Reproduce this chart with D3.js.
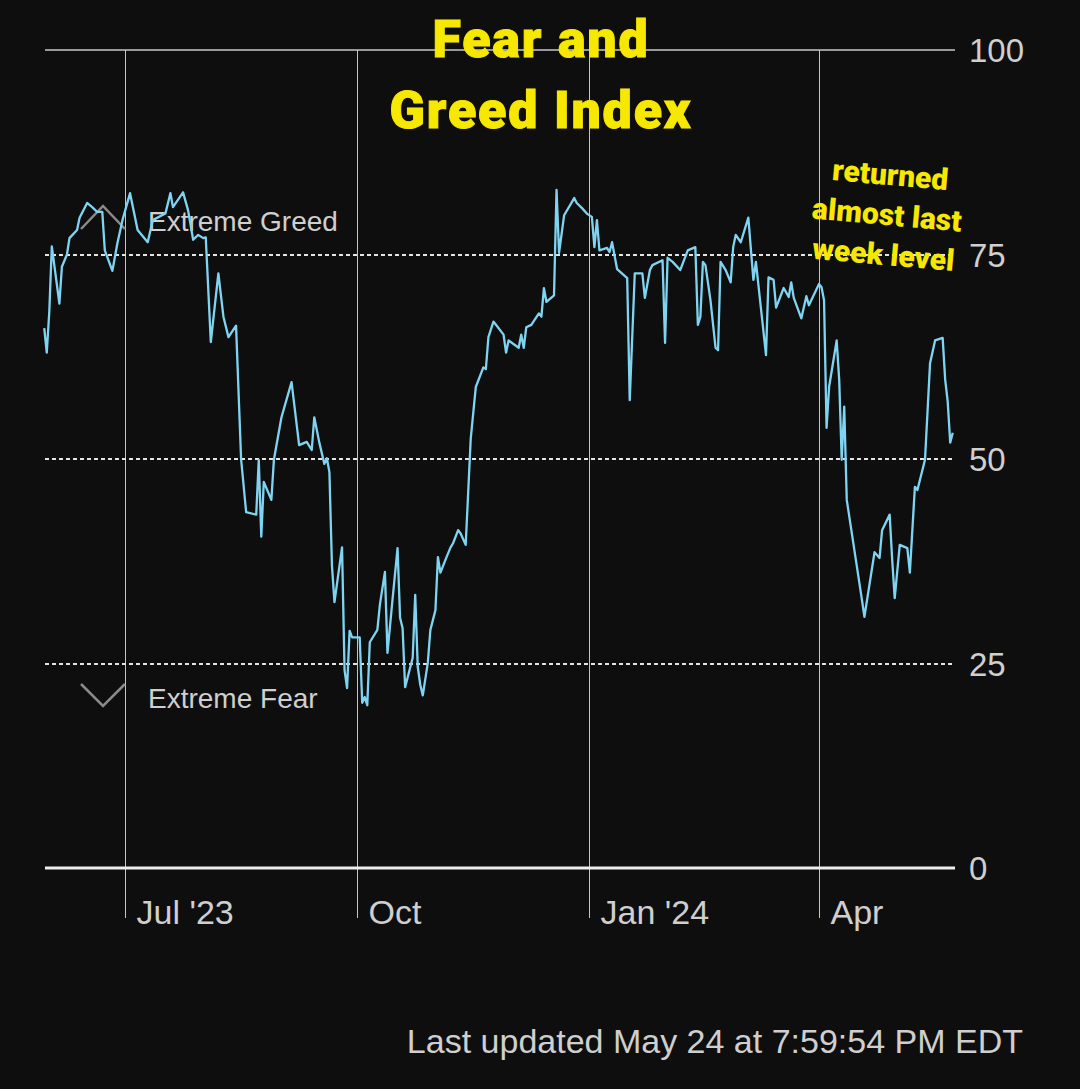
<!DOCTYPE html>
<html>
<head>
<meta charset="utf-8">
<script src="https://cdn.jsdelivr.net/npm/d3@7"></script>
<style>
  html, body { margin: 0; padding: 0; background: #0e0e0e; }
  svg { display: block; }
</style>
</head>
<body>
<svg></svg>
<script>
// daily index readings (date, value)
var dates = [
  "2023-05-30","2023-05-31","2023-06-01","2023-06-02","2023-06-05","2023-06-06","2023-06-08","2023-06-09",
  "2023-06-12","2023-06-13","2023-06-16","2023-06-18","2023-06-20","2023-06-22","2023-06-23","2023-06-26",
  "2023-06-28","2023-06-30","2023-07-03","2023-07-06","2023-07-10","2023-07-12","2023-07-17","2023-07-19",
  "2023-07-20","2023-07-24","2023-07-26","2023-07-28","2023-07-30","2023-08-01","2023-08-02","2023-08-04",
  "2023-08-07","2023-08-09","2023-08-11","2023-08-14","2023-08-16","2023-08-18","2023-08-22","2023-08-23",
  "2023-08-24","2023-08-25","2023-08-28","2023-08-29","2023-09-01","2023-09-05","2023-09-08","2023-09-11",
  "2023-09-13","2023-09-14","2023-09-16","2023-09-18","2023-09-19","2023-09-20","2023-09-21","2023-09-22",
  "2023-09-25","2023-09-26","2023-09-27","2023-09-28","2023-09-29","2023-10-02","2023-10-03","2023-10-04",
  "2023-10-05","2023-10-06","2023-10-09","2023-10-10","2023-10-12","2023-10-13","2023-10-15","2023-10-17",
  "2023-10-18","2023-10-19","2023-10-20","2023-10-23","2023-10-24","2023-10-25","2023-10-26","2023-10-27",
  "2023-10-29","2023-10-30","2023-10-31","2023-11-01","2023-11-02","2023-11-03","2023-11-05","2023-11-07",
  "2023-11-08","2023-11-10","2023-11-11","2023-11-13","2023-11-15","2023-11-17","2023-11-20","2023-11-21",
  "2023-11-22","2023-11-24","2023-11-28","2023-11-29","2023-11-30","2023-12-04","2023-12-05","2023-12-06",
  "2023-12-07","2023-12-09","2023-12-12","2023-12-13","2023-12-14","2023-12-15","2023-12-18","2023-12-19",
  "2023-12-20","2023-12-22","2023-12-26","2023-12-27","2023-12-29","2023-12-31","2024-01-02","2024-01-03",
  "2024-01-04","2024-01-05","2024-01-08","2024-01-09","2024-01-10","2024-01-12","2024-01-16","2024-01-17",
  "2024-01-19","2024-01-22","2024-01-23","2024-01-25","2024-01-26","2024-01-30","2024-01-31","2024-02-01",
  "2024-02-03","2024-02-06","2024-02-09","2024-02-12","2024-02-13","2024-02-14","2024-02-15","2024-02-16",
  "2024-02-18","2024-02-20","2024-02-21","2024-02-22","2024-02-24","2024-02-26","2024-02-27","2024-02-28",
  "2024-03-01","2024-03-04","2024-03-06","2024-03-07","2024-03-11","2024-03-12","2024-03-14","2024-03-15",
  "2024-03-18","2024-03-20","2024-03-21","2024-03-22","2024-03-25","2024-03-27","2024-03-28","2024-04-01",
  "2024-04-02","2024-04-03","2024-04-04","2024-04-05","2024-04-08","2024-04-09","2024-04-10","2024-04-11",
  "2024-04-12","2024-04-18","2024-04-19","2024-04-23","2024-04-25","2024-04-26","2024-04-29","2024-04-30",
  "2024-05-01","2024-05-03","2024-05-06","2024-05-07","2024-05-09","2024-05-10","2024-05-13","2024-05-15",
  "2024-05-17","2024-05-20","2024-05-21","2024-05-22","2024-05-23","2024-05-24"
]
var values = [
  66, 63, 68, 76, 69, 73.5, 75, 77,
  78, 79.5, 81.3, 80.8, 80.2, 80.2, 75.5, 73,
  76.4, 79.2, 82.5, 78, 76.5, 79.2, 80, 82.5,
  80.8, 82.6, 80.4, 76.8, 77.4, 77, 77.1, 64.3,
  72.7, 67.4, 64.9, 66.3, 50, 43.5, 43.2, 49.9,
  40.5, 47.2, 45, 49.9, 55.1, 59.4, 51.7, 52.1,
  51.1, 55.1, 52, 49.4, 50.1, 48.4, 37, 32.5,
  39.2, 24.2, 22, 29, 28.2, 28.2, 20.2, 20.9,
  19.9, 27.6, 29.1, 32.2, 36.2, 26.3, 32.8, 39.1,
  30.6, 29.3, 22.1, 25.7, 33.4, 24.6, 22.4, 21.1,
  25.1, 29.1, 30.3, 31.5, 38, 36.1, 37.7, 39.2,
  39.7, 41.3, 40.9, 39.5, 52.5, 58.8, 61.2, 61,
  64.9, 66.8, 65.2, 63, 64.5, 63.6, 65.2, 63.6,
  66.1, 66.4, 67.8, 67.4, 70.9, 69.2, 70, 82.9,
  75.2, 79.8, 81.9, 81.3, 80.7, 80, 79.6, 75.9,
  79.2, 75.5, 75.8, 75.3, 76.5, 73.2, 72.1, 57.2,
  72.7, 72.7, 69.7, 73.1, 73.7, 74.3, 64.2, 74.6,
  74.1, 73.1, 75.5, 75.9, 66.4, 67.4, 74.1, 73.7,
  69.4, 63.6, 63.3, 74.1, 73.1, 71.6, 75.9, 77.4,
  76.5, 79.5, 71.9, 74.1, 62.7, 72.2, 71.9, 68.5,
  70.9, 69.8, 71.6, 69.7, 67.2, 69.9, 68.8, 71.4,
  71, 69.4, 53.8, 58.8, 64.5, 59.7, 49.9, 56.4,
  45, 32.8, 30.7, 38.6, 37.9, 41.3, 43.2, 37.7,
  33, 39.5, 39.1, 36.1, 46.6, 46.2, 49.9, 61.7,
  64.5, 64.8, 59.7, 57, 52, 53.2
]
var yTicks = [0, 25, 50, 75, 100]
var tickDates = ["2023-07-01", "2023-10-01", "2024-01-01", "2024-04-01"]
var tickLabels = ["Jul '23", "Oct", "Jan '24", "Apr"]

var width = 1080, height = 1089
var plotLeft = 45, plotRight = 955, plotTop = 50, plotBottom = 868
var labelFont = "Liberation Sans, Arial, sans-serif"

var parse = d3.utcParse("%Y-%m-%d")
var data = dates.map((d, i) => ({ date: parse(d), value: values[i] }))

var svg = d3.select("svg")
    .attr("width", width)
    .attr("height", height)

svg.append("rect").attr("width", width).attr("height", height).attr("fill", "#0e0e0e")

var x = d3.scaleUtc()
    .domain([parse("2023-07-01"), parse("2024-04-01")])
    .range([125, 819])

var y = d3.scaleLinear()
    .domain([0, 100])
    .range([plotBottom, plotTop])

// month ticks (vertical rules)
tickDates.forEach(function(d, i) {
    var xp = Math.round(x(parse(d))) + 0.5
    svg.append("line")
        .attr("x1", xp).attr("x2", xp)
        .attr("y1", plotTop).attr("y2", 918)
        .attr("stroke", "#c4c4c4").attr("stroke-width", 1)
    svg.append("text")
        .attr("x", xp + 11).attr("y", 924)
        .attr("fill", "#cfcfcf")
        .attr("font-family", labelFont)
        .attr("font-size", 34)
        .text(tickLabels[i])
})

// horizontal grid
yTicks.forEach(function(t) {
    var yp = Math.round(y(t))
    var line = svg.append("line")
        .attr("x1", plotLeft).attr("x2", plotRight)
        .attr("y1", yp).attr("y2", yp)
    if (t == 0) {
        line.attr("stroke", "#ececec").attr("stroke-width", 3)
    } else if (t == 100) {
        line.attr("stroke", "#c8c8c8").attr("stroke-width", 1.5)
    } else {
        line.attr("stroke", "#e4e4e4").attr("stroke-width", 2).attr("stroke-dasharray", "4,3")
    }
    svg.append("text")
        .attr("x", 969).attr("y", yp)
        .attr("dy", "0.36em")
        .attr("fill", "#cfcfcf")
        .attr("font-family", labelFont)
        .attr("font-size", 33)
        .text(t)
})

// extreme zone markers
svg.append("path")
    .attr("d", "M81,229 L103,206 L125,229")
    .attr("fill", "none").attr("stroke", "#8a8a8a").attr("stroke-width", 2.5)
svg.append("path")
    .attr("d", "M81,684 L103,706 L125,684")
    .attr("fill", "none").attr("stroke", "#8a8a8a").attr("stroke-width", 2.5)

svg.append("text")
    .attr("x", 148).attr("y", 231)
    .attr("fill", "#cfcfcf")
    .attr("font-family", labelFont)
    .attr("font-size", 28)
    .text("Extreme Greed")
svg.append("text")
    .attr("x", 148).attr("y", 708)
    .attr("fill", "#cfcfcf")
    .attr("font-family", labelFont)
    .attr("font-size", 28)
    .text("Extreme Fear")

var line = d3.line()
    .x((d) => x(d.date))
    .y((d) => y(d.value))

svg.append("path")
    .datum(data)
    .attr("d", line)
    .attr("fill", "none")
    .attr("stroke", "#7fd4f2")
    .attr("stroke-width", 2.3)
    .attr("stroke-linejoin", "round")

// title
var title = svg.append("text")
    .attr("text-anchor", "middle")
    .attr("fill", "#f6e800")
    .attr("font-family", "Roboto, Inter, sans-serif")
    .attr("font-weight", 900)
    .attr("font-size", 52)
    .attr("letter-spacing", 1.8)
    .attr("stroke", "#f6e800")
    .attr("stroke-width", 1)
title.append("tspan").attr("x", 541).attr("y", 57).text("Fear and")
title.append("tspan").attr("x", 541).attr("y", 128).text("Greed Index")

// annotation
var note = svg.append("text")
    .attr("text-anchor", "middle")
    .attr("fill", "#f6e800")
    .attr("font-family", "Roboto, Inter, sans-serif")
    .attr("font-weight", 900)
    .attr("font-size", 30)
    .attr("transform", "rotate(5, 886, 225)")
;["returned", "almost last", "week level"].forEach(function(s, i) {
    note.append("tspan").attr("x", 886).attr("y", 185 + i * 40).text(s)
})

svg.append("text")
    .attr("x", 1023).attr("y", 1053)
    .attr("text-anchor", "end")
    .attr("fill", "#cfcfcf")
    .attr("font-family", labelFont)
    .attr("font-size", 34)
    .text("Last updated May 24 at 7:59:54 PM EDT")
</script>
</body>
</html>
